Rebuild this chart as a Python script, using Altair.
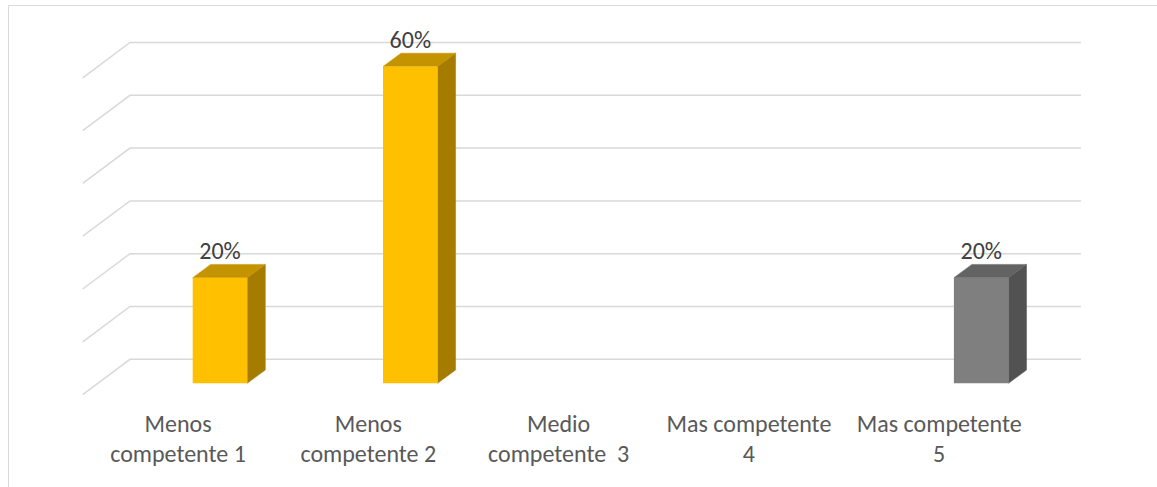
import altair as alt
import pandas as pd

# ---- data ----
categories = ["Menos\ncompetente 1", "Menos\ncompetente 2", "Medio\ncompetente \u00a03",
              "Mas competente\n4", "Mas competente\n5"]
values = [0.20, 0.60, 0.0, 0.0, 0.20]
front_colors = ["#FFC000", "#FFC000", "#FFC000", "#FFC000", "#7F7F7F"]
top_colors = ["#C49300", "#C49300", "#C49300", "#C49300", "#636363"]
side_colors = ["#A67C00", "#A67C00", "#A67C00", "#A67C00", "#525252"]
grid_ticks = [0.0, 0.1, 0.2, 0.3, 0.4, 0.5, 0.6]

# ---- layout / style constants (pixels) ----
W, H = 1157, 487
PX_X = 190.3      # px per category step
PX_Y = 528.0      # px per 100 %
X0 = 220.0        # px of first category centre
Y0 = 383.3        # px of value 0 (front)
x_dom = [-X0 / PX_X, (W - X0) / PX_X]
y_dom = [-(H - Y0) / PX_Y, Y0 / PX_Y]

HW = 27.3 / PX_X          # half bar width
DDX = 18.0 / PX_X         # 3D depth dx
DDY = 13.3 / PX_Y         # 3D depth dy
WALL_DY = 24.0 / PX_Y     # back wall lift
WALL_X0 = (130 - X0) / PX_X
WALL_X1 = (1081 - X0) / PX_X
SIDE_X = (82.7 - X0) / PX_X
SIDE_DY = 35.3 / PX_Y
LABEL_DX = -42.0 / PX_X
FONT = "Carlito, Lato, sans-serif"

xs = alt.Scale(domain=x_dom, nice=False, zero=False)
ys = alt.Scale(domain=y_dom, nice=False, zero=False)

# gridlines
grid_rows = []
for t in grid_ticks:
    grid_rows.append({"tick": t, "order": 0, "x": SIDE_X, "y": t + WALL_DY - SIDE_DY})
    grid_rows.append({"tick": t, "order": 1, "x": WALL_X0, "y": t + WALL_DY})
    grid_rows.append({"tick": t, "order": 2, "x": WALL_X1, "y": t + WALL_DY})
grid_df = pd.DataFrame(grid_rows)

bars = pd.DataFrame({
    "cat": categories, "idx": range(len(categories)), "val": values,
    "front": front_colors, "top": top_colors, "side": side_colors,
})
bars["x0"] = bars["idx"] - HW
bars["x1"] = bars["idx"] + HW
bars["base"] = 0.0
bars["lx"] = bars["idx"] + LABEL_DX
shown = bars[bars["val"] > 0]

side_rows, top_rows = [], []
for _, r in shown.iterrows():
    side_rows.append({"cat": r["cat"], "c": r["side"], "x": r["idx"] + HW, "lo": 0.0, "hi": r["val"]})
    side_rows.append({"cat": r["cat"], "c": r["side"], "x": r["idx"] + HW + DDX, "lo": DDY, "hi": r["val"] + DDY})
    top_rows.append({"cat": r["cat"], "c": r["top"], "y": r["val"], "xa": r["idx"] - HW, "xb": r["idx"] + HW})
    top_rows.append({"cat": r["cat"], "c": r["top"], "y": r["val"] + DDY, "xa": r["idx"] - HW + DDX, "xb": r["idx"] + HW + DDX})
side_df = pd.DataFrame(side_rows)
top_df = pd.DataFrame(top_rows)

grid = alt.Chart(grid_df).mark_line(color="#D9D9D9", strokeWidth=1.5).encode(
    x=alt.X("x:Q", scale=xs, axis=None),
    y=alt.Y("y:Q", scale=ys, axis=None),
    detail="tick:N", order="order:Q",
)

front = alt.Chart(shown).mark_rect(strokeWidth=0).encode(
    x=alt.X("x0:Q", scale=xs, axis=None), x2="x1",
    y=alt.Y("base:Q", scale=ys, axis=None), y2="val",
    color=alt.Color("front:N", scale=None),
)

side = alt.Chart(side_df).mark_area(orient="vertical", strokeWidth=0.5).encode(
    x=alt.X("x:Q", scale=xs, axis=None),
    y=alt.Y("lo:Q", scale=ys, axis=None, stack=None), y2="hi",
    detail="cat:N",
    color=alt.Color("c:N", scale=None),
    stroke=alt.Stroke("c:N", scale=None),
)

top = alt.Chart(top_df).mark_area(orient="horizontal", strokeWidth=0.5).encode(
    y=alt.Y("y:Q", scale=ys, axis=None),
    x=alt.X("xa:Q", scale=xs, axis=None, stack=None), x2="xb",
    detail="cat:N",
    color=alt.Color("c:N", scale=None),
    stroke=alt.Stroke("c:N", scale=None),
)

pct = alt.Chart(shown).mark_text(
    baseline="alphabetic", dy=-18.4, fontSize=24, font=FONT, color="#404040"
).encode(
    x=alt.X("idx:Q", scale=xs, axis=None),
    y=alt.Y("val:Q", scale=ys, axis=None),
    text=alt.Text("val:Q", format=".0%"),
)

cat_labels = alt.Chart(bars).mark_text(
    baseline="alphabetic", lineBreak="\n", lineHeight=30, fontSize=24, font=FONT, color="#595959"
).encode(
    x=alt.X("lx:Q", scale=xs, axis=None),
    y=alt.value(432),
    text="cat:N",
)

one = pd.DataFrame({"a": [0]})
border_left = alt.Chart(one).mark_rule(color="#D9D9D9", strokeWidth=1).encode(
    x=alt.value(8.5), y=alt.value(5.5), y2=alt.value(H))
border_top = alt.Chart(one).mark_rule(color="#D9D9D9", strokeWidth=1).encode(
    x=alt.value(8.5), x2=alt.value(W), y=alt.value(5.5))

chart = alt.layer(
    border_left, border_top, grid, side, top, front, pct, cat_labels
).properties(
    width=W, height=H, autosize="none", padding=0, background="white"
).configure_view(stroke=None)

chart.save("out.html", embed_options={"renderer": "svg", "actions": False})
